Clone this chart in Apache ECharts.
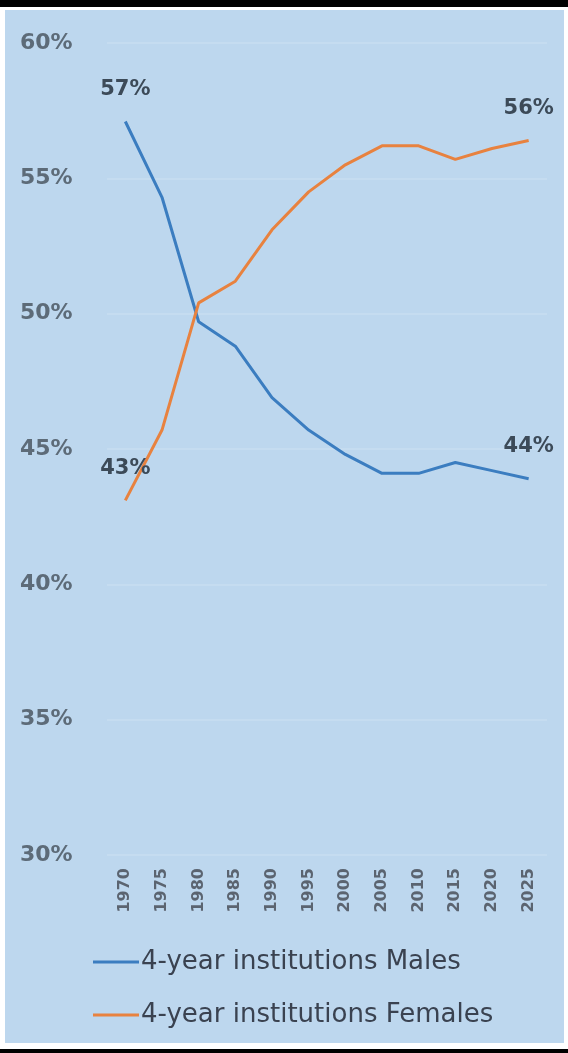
<!DOCTYPE html>
<html>
<head>
<meta charset="utf-8">
<script src="https://cdn.jsdelivr.net/npm/echarts@6/dist/echarts.min.js"></script>
<style>
  html, body { margin: 0; padding: 0; width: 568px; height: 1053px; background: #ffffff; overflow: hidden; }
  #topbar { position: absolute; left: 0; top: 0; width: 568px; height: 7px; background: #000; }
  #botbar { position: absolute; left: 0; top: 1049px; width: 568px; height: 4px; background: #000; }
  #panel { position: absolute; left: 5px; top: 10px; width: 559px; height: 1033px; background: #BDD7EE; }
  #chart { position: absolute; left: 0; top: 0; width: 568px; height: 1053px; }
</style>
</head>
<body>
<div id="topbar"></div>
<div id="panel"></div>
<div id="botbar"></div>
<div id="chart"></div>
<script>
// Share of enrollment in 4-year institutions by sex
const years = ['1970', '1975', '1980', '1985', '1990', '1995', '2000', '2005', '2010', '2015', '2020', '2025'];
const males = [57.1, 54.3, 49.7, 48.8, 46.9, 45.7, 44.8, 44.1, 44.1, 44.5, 44.2, 43.9];
const females = [43.1, 45.7, 50.4, 51.2, 53.1, 54.5, 55.5, 56.2, 56.2, 55.7, 56.1, 56.4];
const yTicks = [30, 35, 40, 45, 50, 55, 60];
const seriesNames = ['4-year institutions Males', '4-year institutions Females'];

const FONT = 'DejaVu Sans';
const chart = echarts.init(document.getElementById('chart'), null, { renderer: 'canvas' });

// Only the first and last points carry a value label
function endLabels(values) {
  const last = values.length - 1;
  return values.map((v, i) => ({
    value: v,
    label: {
      show: i === 0 || i === last,
      formatter: () => Math.round(v) + '%'
    }
  }));
}

const labelStyle = {
  position: 'top',
  distance: 20,
  fontFamily: FONT,
  fontSize: 21,
  fontWeight: 'bold',
  lineHeight: 24,
  color: '#3c4a58'
};

chart.setOption({
  backgroundColor: 'transparent',
  animation: false,
  grid: { left: 107, right: 21, top: 43, bottom: 198 },
  legend: {
    orient: 'vertical',
    left: 88,
    top: 944,
    itemWidth: 46,
    itemHeight: 3,
    itemGap: 27,
    icon: 'rect',
    textStyle: { fontFamily: FONT, fontSize: 26, lineHeight: 26, color: '#3a4250', padding: [0, 0, 0, -3] },
    data: seriesNames
  },
  xAxis: {
    type: 'category',
    data: years,
    boundaryGap: true,
    axisLine: { show: false },
    axisTick: { show: false },
    axisLabel: {
      rotate: 90,
      margin: 13,
      fontFamily: FONT,
      fontSize: 16,
      fontWeight: 'bold',
      color: '#5b6470'
    }
  },
  yAxis: {
    type: 'value',
    min: yTicks[0],
    max: yTicks[yTicks.length - 1],
    interval: 5,
    axisLine: { show: false },
    axisTick: { show: false },
    splitLine: { lineStyle: { color: '#c9def1', width: 1.5 } },
    axisLabel: {
      formatter: v => v + '%',
      align: 'left',
      margin: 87,
      fontFamily: FONT,
      fontSize: 22,
      fontWeight: 'bold',
      color: '#5d6b78'
    }
  },
  series: [
    {
      name: seriesNames[0],
      type: 'line',
      data: endLabels(males),
      symbol: 'circle',
      symbolSize: 0,
      showSymbol: true,
      lineStyle: { color: '#3b7dc0', width: 3 },
      itemStyle: { color: '#3b7dc0' },
      label: labelStyle
    },
    {
      name: seriesNames[1],
      type: 'line',
      data: endLabels(females),
      symbol: 'circle',
      symbolSize: 0,
      showSymbol: true,
      lineStyle: { color: '#e8823f', width: 3 },
      itemStyle: { color: '#e8823f' },
      label: labelStyle
    }
  ]
});
</script>
</body>
</html>
